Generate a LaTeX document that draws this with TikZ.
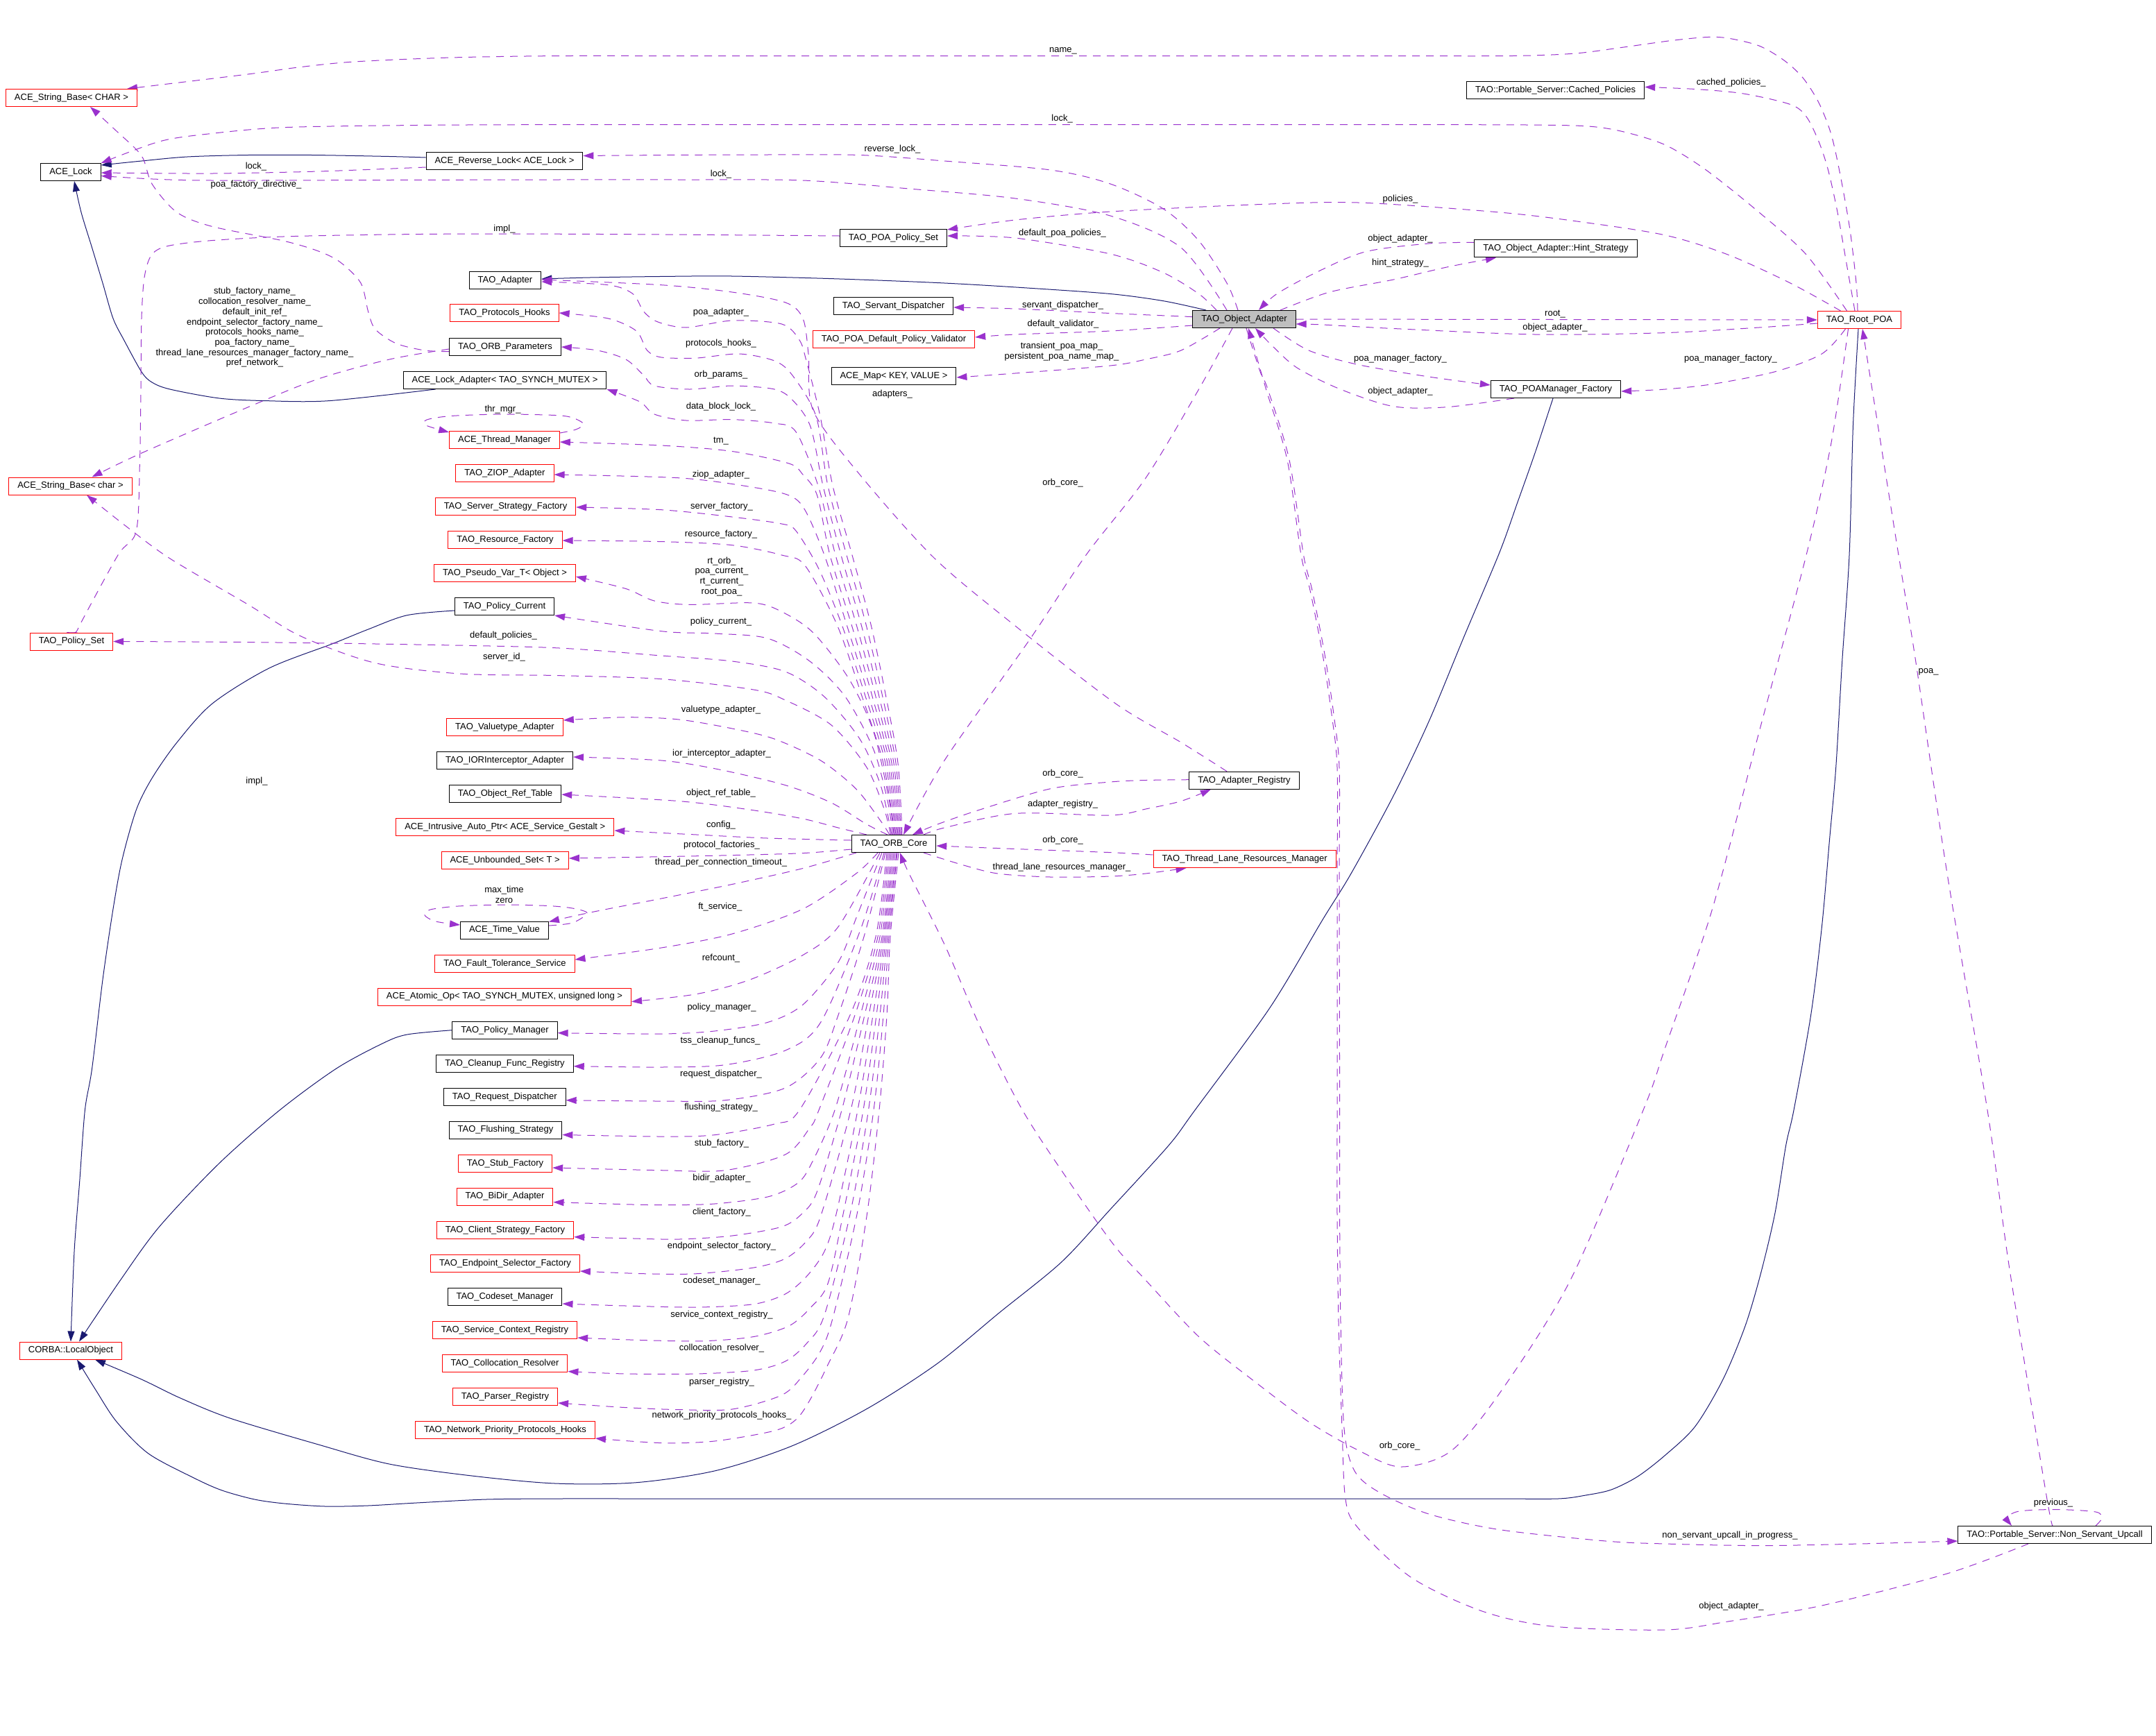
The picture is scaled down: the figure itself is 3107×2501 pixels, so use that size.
\documentclass[tikz,border=0pt]{standalone}
\usepackage{fontspec}
\setmainfont{Liberation Sans}
\usetikzlibrary{arrows.meta}
\pgfdeclarelayer{background}
\pgfsetlayers{background,main}
\definecolor{dpurple}{HTML}{9A32CD}
\definecolor{dnavy}{HTML}{191970}
\definecolor{dred}{HTML}{FF0000}
\definecolor{dgray}{HTML}{BFBFBF}
\newcommand\dgfont{\fontsize{13}{14.7}\selectfont}
\tikzset{
  cls/.style={draw=black, line width=1pt, fill=white, minimum height=25pt, inner xsep=12.5pt, inner ysep=0pt, font=\dgfont},
  clsr/.style={cls, draw=dred},
  clsf/.style={cls, fill=dgray},
  lbl/.style={inner sep=0pt, font=\dgfont, align=center},
  dep/.style={draw=dpurple, line width=1pt, dash pattern=on 11pt off 9pt, -{Triangle[length=15pt,width=10pt]}},
  inh/.style={draw=dnavy, line width=1pt, -{Triangle[length=15pt,width=10pt]}},
}
\begin{document}
\begin{tikzpicture}[x=1pt, y=-1pt]
\useasboundingbox (0,0) rectangle (3107,2501);
% ---------------- class nodes ----------------
\node[clsr] (sbCHAR) at (103,141) {ACE\_String\_Base< CHAR >};
\node[cls] (acelock) at (102,248) {ACE\_Lock};
\node[cls] (revlock) at (727,232) {ACE\_Reverse\_Lock< ACE\_Lock >};
\node[cls] (taoadapter) at (728,404) {TAO\_Adapter};
\node[clsr] (prothooks) at (727,451) {TAO\_Protocols\_Hooks};
\node[cls] (orbparams) at (728,500) {TAO\_ORB\_Parameters};
\node[cls] (lockadapter) at (727.5,548) {ACE\_Lock\_Adapter< TAO\_SYNCH\_MUTEX >};
\node[clsr] (thrmgr) at (727,634) {ACE\_Thread\_Manager};
\node[clsr] (ziop) at (727.5,682) {TAO\_ZIOP\_Adapter};
\node[clsr] (srvstrat) at (728.5,730) {TAO\_Server\_Strategy\_Factory};
\node[clsr] (resfact) at (728,778) {TAO\_Resource\_Factory};
\node[clsr] (sbchar) at (101.5,700.5) {ACE\_String\_Base< char >};
\node[clsr] (pseudovar) at (727.5,826) {TAO\_Pseudo\_Var\_T< Object >};
\node[cls] (polcur) at (727,874) {TAO\_Policy\_Current};
\node[clsr] (polset) at (103,924.5) {TAO\_Policy\_Set};
\node[clsr] (valuetype) at (727.5,1048) {TAO\_Valuetype\_Adapter};
\node[cls] (ior) at (727.5,1096) {TAO\_IORInterceptor\_Adapter};
\node[cls] (objref) at (728,1144) {TAO\_Object\_Ref\_Table};
\node[clsr] (autoptr) at (727.8,1192) {ACE\_Intrusive\_Auto\_Ptr< ACE\_Service\_Gestalt >};
\node[clsr] (unbset) at (727.7,1240) {ACE\_Unbounded\_Set< T >};
\node[cls] (timeval) at (727,1340.5) {ACE\_Time\_Value};
\node[clsr] (ftsvc) at (727.5,1388.7) {TAO\_Fault\_Tolerance\_Service};
\node[clsr] (atomicop) at (727,1436.6) {ACE\_Atomic\_Op< TAO\_SYNCH\_MUTEX, unsigned long >};
\node[cls] (polmgr) at (727.5,1484.7) {TAO\_Policy\_Manager};
\node[cls] (cleanup) at (727.5,1532.7) {TAO\_Cleanup\_Func\_Registry};
\node[cls] (reqdisp) at (727.3,1580.7) {TAO\_Request\_Dispatcher};
\node[cls] (flush) at (728.5,1628.5) {TAO\_Flushing\_Strategy};
\node[clsr] (stubf) at (728,1677) {TAO\_Stub\_Factory};
\node[clsr] (bidir) at (727.5,1724.6) {TAO\_BiDir\_Adapter};
\node[clsr] (clistrat) at (728,1773) {TAO\_Client\_Strategy\_Factory};
\node[clsr] (endpoint) at (728,1821) {TAO\_Endpoint\_Selector\_Factory};
\node[cls] (codeset) at (727.5,1869) {TAO\_Codeset\_Manager};
\node[clsr] (svcctx) at (727.5,1917) {TAO\_Service\_Context\_Registry};
\node[clsr] (colloc) at (727.5,1965) {TAO\_Collocation\_Resolver};
\node[clsr] (parser) at (728,2013) {TAO\_Parser\_Registry};
\node[clsr] (netprio) at (728,2061) {TAO\_Network\_Priority\_Protocols\_Hooks};
\node[clsr] (localobj) at (102,1946.5) {CORBA::LocalObject};
\node[cls] (poapolset) at (1287.5,343) {TAO\_POA\_Policy\_Set};
\node[cls] (servdisp) at (1287.5,441) {TAO\_Servant\_Dispatcher};
\node[clsr] (validator) at (1288,489) {TAO\_POA\_Default\_Policy\_Validator};
\node[cls] (acemap) at (1288,542) {ACE\_Map< KEY, VALUE >};
\node[cls] (orbcore) at (1288,1216) {TAO\_ORB\_Core};
\node[cls] (cachedpol) at (2241.7,130.4) {TAO::Portable\_Server::Cached\_Policies};
\node[cls] (hint) at (2242,358.4) {TAO\_Object\_Adapter::Hint\_Strategy};
\node[clsf] (oa) at (1793,460) {TAO\_Object\_Adapter};
\node[cls] (poamf) at (2242,561) {TAO\_POAManager\_Factory};
\node[clsr] (rootpoa) at (2679.5,461) {TAO\_Root\_POA};
\node[cls] (adreg) at (1793,1124.7) {TAO\_Adapter\_Registry};
\node[clsr] (tlrm) at (1793.6,1238) {TAO\_Thread\_Lane\_Resources\_Manager};
\node[cls] (nsu) at (2961,2212) {TAO::Portable\_Server::Non\_Servant\_Upcall};
% ---------------- edge labels ----------------
\node[lbl] (l1) at (1532,73) {name\_};
\node[lbl] (l2) at (2494.7,119.4) {cached\_policies\_};
\node[lbl] (l3) at (1530.6,171.4) {lock\_};
\node[lbl] (l4) at (1286,215) {reverse\_lock\_};
\node[lbl] (l5) at (369,240) {lock\_};
\node[lbl] (l6) at (1039,251.5) {lock\_};
\node[lbl] (l7) at (369,266) {poa\_factory\_directive\_};
\node[lbl] (l8) at (2018,287) {policies\_};
\node[lbl] (l9) at (727,330.6) {impl\_};
\node[lbl] (l10) at (1531,336) {default\_poa\_policies\_};
\node[lbl] (l11) at (2018,344.4) {object\_adapter\_};
\node[lbl] (l12) at (2018,379.6) {hint\_strategy\_};
\node[lbl] (l13) at (367,472) {stub\_factory\_name\_\\collocation\_resolver\_name\_\\default\_init\_ref\_\\endpoint\_selector\_factory\_name\_\\protocols\_hooks\_name\_\\poa\_factory\_name\_\\thread\_lane\_resources\_manager\_factory\_name\_\\pref\_network\_};
\node[lbl] (l14) at (1531.6,440) {servant\_dispatcher\_};
\node[lbl] (l15) at (1039,450.5) {poa\_adapter\_};
\node[lbl] (l16) at (2241,452.6) {root\_};
\node[lbl] (l17) at (1532,467) {default\_validator\_};
\node[lbl] (l18) at (2241,472.4) {object\_adapter\_};
\node[lbl] (l19) at (1039,495.4) {protocols\_hooks\_};
\node[lbl] (l20) at (1530,506.8) {transient\_poa\_map\_\\persistent\_poa\_name\_map\_};
\node[lbl] (l21) at (2018,516.8) {poa\_manager\_factory\_};
\node[lbl] (l22) at (2494,516.8) {poa\_manager\_factory\_};
\node[lbl] (l23) at (1039,540) {orb\_params\_};
\node[lbl] (l24) at (2018,563.8) {object\_adapter\_};
\node[lbl] (l25) at (1286,568) {adapters\_};
\node[lbl] (l26) at (1039,586) {data\_block\_lock\_};
\node[lbl] (l27) at (724.5,590) {thr\_mgr\_};
\node[lbl] (l28) at (1039,636) {tm\_};
\node[lbl] (l29) at (1039,683.7) {ziop\_adapter\_};
\node[lbl] (l30) at (1531.6,696.4) {orb\_core\_};
\node[lbl] (l31) at (1040,730.6) {server\_factory\_};
\node[lbl] (l32) at (1039,770) {resource\_factory\_};
\node[lbl] (l33) at (1040,830.8) {rt\_orb\_\\poa\_current\_\\rt\_current\_\\root\_poa\_};
\node[lbl] (l34) at (1039,896.4) {policy\_current\_};
\node[lbl] (l35) at (725.5,915.8) {default\_policies\_};
\node[lbl] (l36) at (726.5,947.4) {server\_id\_};
\node[lbl] (l37) at (2779,968) {poa\_};
\node[lbl] (l38) at (1039,1023.5) {valuetype\_adapter\_};
\node[lbl] (l39) at (1040,1086) {ior\_interceptor\_adapter\_};
\node[lbl] (l40) at (1531.6,1115.3) {orb\_core\_};
\node[lbl] (l41) at (370,1126.5) {impl\_};
\node[lbl] (l42) at (1039,1143.4) {object\_ref\_table\_};
\node[lbl] (l43) at (1531.6,1159) {adapter\_registry\_};
\node[lbl] (l44) at (1039,1188.8) {config\_};
\node[lbl] (l45) at (1531.6,1211) {orb\_core\_};
\node[lbl] (l46) at (1040,1218.4) {protocol\_factories\_};
\node[lbl] (l47) at (1039,1243.4) {thread\_per\_connection\_timeout\_};
\node[lbl] (l48) at (1530,1250.5) {thread\_lane\_resources\_manager\_};
\node[lbl] (l49) at (726.5,1289.5) {max\_time\\zero};
\node[lbl] (l50) at (1037.8,1306.6) {ft\_service\_};
\node[lbl] (l51) at (1039,1380.6) {refcount\_};
\node[lbl] (l52) at (1040,1452.6) {policy\_manager\_};
\node[lbl] (l53) at (1038,1500.5) {tss\_cleanup\_funcs\_};
\node[lbl] (l54) at (1039,1548.5) {request\_dispatcher\_};
\node[lbl] (l55) at (1039,1596) {flushing\_strategy\_};
\node[lbl] (l56) at (1040,1648.5) {stub\_factory\_};
\node[lbl] (l57) at (1040,1698.5) {bidir\_adapter\_};
\node[lbl] (l58) at (1040,1747.4) {client\_factory\_};
\node[lbl] (l59) at (1040,1796.4) {endpoint\_selector\_factory\_};
\node[lbl] (l60) at (1040,1846.4) {codeset\_manager\_};
\node[lbl] (l61) at (1040,1895.4) {service\_context\_registry\_};
\node[lbl] (l62) at (1040,1943.4) {collocation\_resolver\_};
\node[lbl] (l63) at (1040,1992.3) {parser\_registry\_};
\node[lbl] (l64) at (1040,2040.3) {network\_priority\_protocols\_hooks\_};
\node[lbl] (l65) at (2017,2083.7) {orb\_core\_};
\node[lbl] (l66) at (2959,2166) {previous\_};
\node[lbl] (l67) at (2493,2213) {non\_servant\_upcall\_in\_progress\_};
\node[lbl] (l68) at (2495,2315) {object\_adapter\_};
% ---------------- edges ----------------
\begin{pgfonlayer}{background}
\fill[white] (0,0) rectangle (3107,2501);
% inheritance
\draw[inh] plot[smooth] coordinates {([yshift=5pt]revlock.west) (561,225.5) (450,223.5) (357,223.5) (270,226) (204,232) ([yshift=10pt]acelock.east)};
\draw[inh] plot[smooth] coordinates {([xshift=-100pt]lockadapter.south) (474.5,577.6) (382.7,577.6) (316,574) (245,561) (219,551) (204,536) (178.6,490) (163,459) (148,408) (132.6,357) (117,306) ([xshift=5pt]acelock.south)};
\draw[inh] plot[smooth] coordinates {([xshift=-55pt]oa.north) (1676.5,433.7) (1600,423.5) (1480,415) (1361,408) (1210,402) (1055,398) (950,398.5) (850,400) ([yshift=2pt]taoadapter.east)};
\draw[inh] plot[smooth] coordinates {([xshift=-4pt]poamf.south) (2212,653) (2186.7,724.5) (2161,796) (2110,917) (2059,1040) (2008,1147) (1947,1259) (1906,1325.5) (1829.6,1453) (1722,1600) (1684,1651) (1600,1743) (1529.6,1819) (1440,1892) (1351,1965) (1250,2030) (1141.8,2083.7) (1032,2119.4) (917,2136.7) (800,2138) (680,2127) (561,2110) (459,2082) (331.6,2044) (260,2015) (204,1988) ([xshift=35pt]localobj.south)};
\draw[inh] plot[smooth] coordinates {([xshift=-1.5pt]rootpoa.south) (2670.5,612) (2665,800) (2654.7,953) (2645.7,1106) (2636.7,1208) (2625.4,1335.7) (2609.6,1463) (2585,1600) (2573.6,1651) (2558,1748) (2537.5,1835) (2515,1911) (2483,1988) (2443,2055.6) (2400,2097) (2360,2128) (2322,2147) (2285,2155) (2245,2160) (2150,2160) (1950,2160) (1700,2160) (1450,2160) (1200,2160) (950,2160) (800,2160) (700,2161) (600,2166) (530,2170) (469,2171) (410,2167) (367,2161) (320,2148) (280.6,2130.6) (214,2095) (168,2049) (137.8,2003) ([xshift=9pt]localobj.south)};
\draw[inh] plot[smooth] coordinates {([yshift=-6pt]polcur.west) (586.7,886.7) (530.6,907) (479.6,927.6) (387.8,963) (306,1014) (255,1070) (219.4,1121) (196.4,1167) (176,1239) (163,1310) (148,1412) (132.6,1540) (122.4,1600) (114.8,1702) (107,1804) (localobj.north)};
\draw[inh] plot[smooth] coordinates {(polmgr.west) (586.7,1491) (551,1504) (484.7,1540) (403,1600) (316,1676.5) (229.6,1768) (173.5,1845) ([xshift=12pt]localobj.north)};
% usage: top area
\draw[dep] plot[smooth] coordinates {([xshift=-2.5pt]rootpoa.north) (2675,408) (2666,331.6) (2652.5,255) (2639,194) (2621,148) (2598,112) (2571,87) (2535,66) (2490,55) (2458.6,53.6) (2406.8,58.7) (2340,68) (2270,77) (2180,80.5) (2000,80.6) (1800,80.6) (1600,80.6) (1400,80.6) (1200,80.6) (1000,80.6) (800,80.6) (650,83) (510,89) (430,97) (357,107) ([xshift=80pt]sbCHAR.north)};
\draw[dep] plot[smooth] coordinates {([xshift=-6.5pt]rootpoa.north) (2661.5,382.7) (2648,306) (2634.5,245) (2621,204) (2603,168) (2580,150.5) (2512.7,135) (2445,128.6) ([yshift=5pt]cachedpol.east)};
\draw[dep] plot[smooth] coordinates {([xshift=-18pt]rootpoa.north) (2603,367) (2535,306) (2458.6,245) (2400,209) (2340,190) (2288.8,182) (2200,180) (2000,179.6) (1800,179.6) (1600,179.6) (1400,179.6) (1200,179.6) (1000,179.6) (800,179.6) (600,180.5) (408,183.7) (300,193) (229.6,204) (acelock.north east)};
\draw[dep] plot[smooth] coordinates {([xshift=-27pt]rootpoa.north) (2580,408) (2490,367) (2400,339) (2280,320) (2161,306) (1957,292) (1804,295) (1600,305) (1463,317) ([yshift=12pt]poapolset.east)};
\draw[dep] plot[smooth] coordinates {([xshift=-9pt]oa.north) (1768,408) (1727.6,347) (1676.5,301) (1600,265) (1514,245) (1361,232) (1239,223.5) (1100,223) (960,223.5) ([yshift=7.5pt]revlock.east)};
\draw[dep] plot[smooth] coordinates {([xshift=-25pt]oa.north) (1702,357) (1600,311) (1463,286) (1310,272) (1157,260) (980,259) (800,259) (560,259.5) (306,260) (220,258) ([yshift=-5.5pt]acelock.east)};
\draw[dep] plot[smooth] coordinates {([yshift=-9pt]revlock.west) (459,247) (306,250) ([yshift=-1pt]acelock.east)};
\draw[dep] plot[smooth] coordinates {([yshift=-6.6pt]orbparams.west) (612,505) (571,495) (540.8,474.5) (530.6,449) (520,408) (490,377.6) (459,362) (408,347) (306,326.5) (255,306) (219,265) (204,224.5) (168,189) ([xshift=27pt]sbCHAR.south)};
\draw[dep] plot[smooth] coordinates {([yshift=-3pt]orbparams.west) (561,518) (459,546) (357,587) (204,653) ([xshift=31pt]sbchar.north)};
\draw[dep] plot[smooth] coordinates {([yshift=3pt]poapolset.west) (960,338) (714,337) (560,338) (408,341) (300,347) (240,355) (218,368) (208,400) (204,459) (203,561) (201.5,663) (196.4,765) (170,800) (117,897) ([xshift=9pt]polset.north)};
\draw[dep] plot[smooth] coordinates {([xshift=-40pt]oa.north) (1727.6,423.5) (1676.5,393) (1600,366) (1463,343) ([yshift=3pt]poapolset.east)};
\draw[dep] plot[smooth] coordinates {([yshift=9pt]hint.west) (2059,351) (1967,363) (1896,393) (1840,423.5) ([xshift=21pt]oa.north)};
\draw[dep] plot[smooth] coordinates {([xshift=52pt]oa.north) (1916,421) (2008,403) (2085,385) ([xshift=-86pt]hint.south)};
\draw[dep] (oa.east) -- (rootpoa.west);
\draw[dep] plot[smooth] coordinates {([yshift=-5pt]rootpoa.west) (2535,472) (2400,479.6) (2212,482) (2008,473.5) (1906,468) ([yshift=-7pt]oa.east)};
\draw[dep] plot[smooth] coordinates {([xshift=42pt]oa.south) (1886,505) (1957,525.5) (2059,543) ([yshift=6pt]poamf.west)};
\draw[dep] plot[smooth] coordinates {([xshift=-60pt]poamf.south) (2085,586.7) (2008,585.7) (1931.6,561) (1870,530.6) (1835,500) ([xshift=16pt]oa.south)};
\draw[dep] plot[smooth] coordinates {([xshift=-20pt]rootpoa.south) (2625.4,510) (2558,535.7) (2467.6,553.6) (2400,561) ([yshift=-3pt]poamf.east)};
\draw[dep] plot[smooth] coordinates {([yshift=3.4pt]oa.west) (1600,451.5) (1463,445) ([yshift=-2pt]servdisp.east)};
\draw[dep] plot[smooth] coordinates {([yshift=-9pt]oa.west) (1600,477) (1463,482) ([yshift=3pt]validator.east)};
\draw[dep] plot[smooth] coordinates {([xshift=-35pt]oa.south) (1702,505) (1651,518) (1600,527) (1463,538) ([yshift=-2pt]acemap.east)};
\draw[dep] plot[smooth] coordinates {([xshift=-17pt]oa.south) (1727.6,561) (1651,689) (1565,800) (1483.7,922) (1361,1096) ([xshift=14pt]orbcore.north)};
\draw[dep] plot[smooth] coordinates {([xshift=3pt]oa.south) (1816,535.7) (1827,561) (1858,663) (1878.5,800) (1891,851) (1909,943) (1922,1029.6) (1930,1106) (1930,1259) (1930.3,1430) (1930.6,1600) (1930.6,1753) (1932,1906) (1937,2059) (1952,2120) (1988,2151) (2059,2182) (2161,2204.6) (2314,2221) (2400,2225) (2535,2227.6) (2680,2225) ([yshift=-9pt]nsu.west)};
\draw[dep] plot[smooth] coordinates {([xshift=-38pt]nsu.south) (2805.8,2268) (2625.4,2314) (2490,2337) (2400,2349) (2237.8,2344) (2135.7,2322) (2033.7,2273.5) (1957,2202) (1939,2161) (1934,2059) (1929,1906) (1927,1753) (1927,1600) (1927,1430) (1927,1259) (1927,1106) (1919,1029.6) (1906,943) (1888,851) (1875,800) (1855,663) (1824.5,561) ([xshift=6pt]oa.south)};
\draw[dep] plot[smooth] coordinates {([xshift=59pt]nsu.north) (3029,2188) (3020,2179) (2963.6,2175.5) (2910,2178) (2893,2187) ([xshift=-62pt]nsu.north)};
\draw[dep] plot[smooth] coordinates {([xshift=-2pt]nsu.north) (2950,2161) (2896,1829.6) (2864,1600) (2806,1259) (2760.7,953) (2736,800) (2702,586.7) ([xshift=4.5pt]rootpoa.south)};
\draw[dep] plot[smooth] coordinates {([xshift=-16pt]rootpoa.south) (2639,638) (2603,800) (2535,1055) (2467.6,1310) (2400,1509) (2368,1600) (2263,1845) (2161,2008) (2090,2092) (2018,2114) (1957,2090) (1885.7,2049) (1804,1988) (1727.6,1926.5) (1651,1845) (1605,1794) (1540,1702) (1473.5,1600) (1412,1478.6) (1361,1361) (1310,1259) ([xshift=9pt]orbcore.south)};
\draw[dep] plot[smooth] coordinates {([yshift=1pt]adreg.west) (1651,1124.5) (1600,1127) (1514,1136.7) (1412,1167) (1351,1188) ([xshift=27pt]orbcore.north)};
\draw[dep] plot[smooth] coordinates {([xshift=43pt]orbcore.north) (1361,1193) (1463,1172.4) (1600,1175) (1651,1166) (1702,1154.6) ([xshift=-48pt]adreg.south)};
\draw[dep] plot[smooth] coordinates {([yshift=6pt]tlrm.west) (1600,1228.6) (1463,1223.5) ([yshift=-3pt]orbcore.east)};
\draw[dep] plot[smooth] coordinates {([xshift=43pt]orbcore.south) (1386.7,1246.4) (1437.8,1259) (1514,1264) (1600,1263) (1651,1259) ([xshift=-84pt]tlrm.south)};
\draw[dep] plot[smooth] coordinates {([xshift=-25pt]adreg.north) (1702,1070) (1607.6,1014) (1463,902) (1346,804) (1239,684) (1172,592) (1165,510) (1157,459) (1132,436) (1055,421) (953,410.7) ([yshift=1pt]taoadapter.east)};
% usage: ORB core, upper fan
\draw[dep] plot[smooth] coordinates {([xshift=12pt]orbcore.north) (1294,1100) (1276,1000) (1255,900) (1228,800) (1200,700) (1182,600) (1162,520) (1152,490) (1126.5,467) (1055,462) (989,472) (948,464) (927.6,449) (912,423.5) (876.5,410.7) ([yshift=-2pt]taoadapter.east)};
\draw[dep] plot[smooth] coordinates {([xshift=10.5pt]orbcore.north) (1291,1100) (1271,1000) (1248,900) (1220,800) (1193,700) (1176,600) (1142,541) (1116,520) (1065,510) (1004,516) (953,515) (932.6,505) (917,477) (876.5,459) (prothooks.east)};
\draw[dep] plot[smooth] coordinates {([xshift=9pt]orbcore.north) (1288,1100) (1266,1000) (1241,900) (1212,800) (1186,700) (1168,615) (1142,576.5) (1116,561) (1055,556) (994,561) (943,556) (927.6,541) (902,518) (861,505) (orbparams.east)};
\draw[dep] plot[smooth] coordinates {([xshift=7.5pt]orbcore.north) (1285,1100) (1261,1000) (1234,900) (1204,800) (1179,700) (1147,622.4) (1116,610) (1055,604.6) (989,606) (943,597) (922,579) (lockadapter.south east)};
\draw[dep] plot[smooth] coordinates {([xshift=6pt]orbcore.north) (1282,1100) (1256,1000) (1227,900) (1196,800) (1177.6,714) (1157,684) (1137,668) (1055,650.5) (953,642) ([yshift=-3pt]thrmgr.east)};
\draw[dep] plot[smooth] coordinates {([xshift=4.5pt]orbcore.north) (1279,1100) (1251,1000) (1220,900) (1188,800) (1160,735) (1137,714) (1080.6,701.5) (978.6,688.8) ([yshift=-2pt]ziop.east)};
\draw[dep] plot[smooth] coordinates {([xshift=3pt]orbcore.north) (1276,1100) (1246,1000) (1213,900) (1180,820) (1147,765) (1126.5,755) (1055,745) (953,734.7) ([yshift=-1pt]srvstrat.east)};
\draw[dep] plot[smooth] coordinates {([xshift=1.5pt]orbcore.north) (1273,1100) (1241,1000) (1206,900) (1160,815) (1126.5,800) (1055,785.7) (953,780.6) ([yshift=-1pt]resfact.east)};
\draw[dep] plot[smooth] coordinates {(orbcore.north) (1282,1157) (1259,1055) (1223.5,978.6) (1172,912) (1126.5,881.6) (1086,869) (994,871.4) (943,866) (902,848.5) ([yshift=-5pt]pseudovar.east)};
\draw[dep] plot[smooth] coordinates {([xshift=-1.5pt]orbcore.north) (1279.6,1157) (1259,1080.6) (1218,1004) (1167,953) (1106,920) (1029.6,913) (953,909.7) (polcur.south east)};
\draw[dep] plot[smooth] coordinates {([xshift=-3pt]orbcore.north) (1269,1131.6) (1239,1065) (1187.8,1004) (1131.6,968) (1055,953) (953,945) (800,933.7) (600,929) (400,926) (280,925) (polset.east)};
\draw[dep] plot[smooth] coordinates {([xshift=-4.5pt]orbcore.north) (1274.5,1167) (1249,1106) (1198,1045) (1131.6,1009) (1086,994) (953,978.6) (800,973.5) (663,971) (541,955.6) (433.7,917) (357,871) (245,805) (183.7,760) ([xshift=23.5pt]sbchar.south)};
\draw[dep] plot[smooth] coordinates {([xshift=-6pt]orbcore.north) (1269,1183) (1233.7,1137) (1182.6,1096) (1116,1065) (1055,1050) (978.6,1037) (902,1033.7) ([yshift=10pt]valuetype.east)};
\draw[dep] plot[smooth] coordinates {([xshift=-9pt]orbcore.north) (1249,1188) (1198,1157) (1131.6,1131.6) (1034.7,1108.7) (953,1096) ([yshift=5pt]ior.east)};
\draw[dep] plot[smooth] coordinates {([xshift=-39pt]orbcore.north) (1208,1193) (1157,1180) (1080.6,1167) (978.6,1154.6) ([yshift=-1pt]objref.east)};
\draw[dep] plot[smooth] coordinates {([yshift=5pt]orbcore.west) (1106,1208) (1004,1203) ([yshift=-5pt]autoptr.east)};
\draw[dep] plot[smooth] coordinates {([yshift=-8pt]orbcore.west) (1157,1229.6) (1055,1232.6) (953,1234.7) ([yshift=3pt]unbset.east)};
% usage: ORB core, lower fan
\draw[dep] plot[smooth] coordinates {([xshift=-54pt]orbcore.south) (1157,1251.5) (1055,1274.5) (953,1295) (851,1315) ([yshift=12pt]timeval.east)};
\draw[dep] plot[smooth] coordinates {([xshift=-23pt]orbcore.south) (1233.7,1259) (1157,1310) (1055,1346) (953,1366) ([yshift=5.7pt]ftsvc.east)};
\draw[dep] plot[smooth] coordinates {([xshift=-20pt]orbcore.south) (1208,1335.7) (1157,1376.5) (1080.6,1412) (1004,1432.6) ([yshift=-7pt]atomicop.east)};
\draw[dep] plot[smooth] coordinates {([xshift=-17pt]orbcore.south) (1235,1320) (1208,1386.7) (1157,1448) (1106,1473.5) (1029.6,1486) (953,1490) ([yshift=-4pt]polmgr.east)};
\draw[dep] plot[smooth] coordinates {([xshift=-14pt]orbcore.south) (1240,1340) (1182.6,1473.5) (1131.6,1514) (1045,1534.7) (953,1538) ([yshift=-4pt]cleanup.east)};
\draw[dep] plot[smooth] coordinates {([xshift=-12pt]orbcore.south) (1245,1350) (1208,1463) (1182.6,1524.5) (1131.6,1568) (1045,1585.7) (953,1587) ([yshift=-5pt]reqdisp.east)};
\draw[dep] plot[smooth] coordinates {([xshift=-10pt]orbcore.south) (1262,1350) (1225,1463) (1152,1600) (1116,1620) (1029.6,1635.7) (953,1638) ([yshift=-7pt]flush.east)};
\draw[dep] plot[smooth] coordinates {([xshift=-8pt]orbcore.south) (1265,1350) (1232,1463) (1180,1600) (1167,1625.5) (1131.6,1664) (1045,1686.7) (953,1686.7) ([yshift=-6pt]stubf.east)};
\draw[dep] plot[smooth] coordinates {([xshift=-6pt]orbcore.south) (1268,1350) (1240,1463) (1203,1600) (1167,1681.6) (1147,1707) (1106,1725) (1029.6,1735) (953,1736.7) (876.5,1735) ([yshift=-8pt]bidir.east)};
\draw[dep] plot[smooth] coordinates {([xshift=-4pt]orbcore.south) (1271,1350) (1246,1463) (1213,1600) (1177.6,1717) (1157,1748) (1126.5,1768) (1055,1781) (978.6,1786) (902,1784.7) ([yshift=-9.7pt]clistrat.east)};
\draw[dep] plot[smooth] coordinates {([xshift=-2pt]orbcore.south) (1273,1350) (1252,1463) (1226,1600) (1182.6,1753) (1162,1789) (1131.6,1814) (1086,1827) (1004,1835.7) (927.6,1835.7) ([yshift=-11pt]endpoint.east)};
\draw[dep] plot[smooth] coordinates {(orbcore.south) (1275,1350) (1258,1463) (1236,1600) (1205,1750) (1187.8,1804) (1162,1840) (1131.6,1865) (1086,1879.6) (1004,1884) (902,1882) ([yshift=-10pt]codeset.east)};
\draw[dep] plot[smooth] coordinates {([xshift=2pt]orbcore.south) (1277,1350) (1263,1463) (1244,1600) (1215,1750) (1193,1850) (1167,1885.7) (1137,1911) (1086,1926.5) (1014,1932.7) (927.6,1931.6) ([yshift=-11pt]svcctx.east)};
\draw[dep] plot[smooth] coordinates {([xshift=4pt]orbcore.south) (1279,1350) (1268,1463) (1251.5,1600) (1225,1750) (1187.8,1896) (1162,1936.7) (1131.6,1962) (1086,1975) (1004,1980) (902,1980) ([yshift=-11.5pt]colloc.east)};
\draw[dep] plot[smooth] coordinates {([xshift=5pt]orbcore.south) (1281,1350) (1273,1463) (1259,1600) (1235,1750) (1200,1900) (1182.6,1947) (1157,1982.6) (1126.5,2010.7) (1055,2031) (978.6,2031.6) (902,2028.6) ([yshift=-9pt]parser.east)};
\draw[dep] plot[smooth] coordinates {([xshift=7pt]orbcore.south) (1283,1350) (1278,1463) (1267,1600) (1249,1753) (1222,1900) (1193,1967) (1167,2018) (1147,2046) (1116,2062) (1029.6,2077) (953,2079.6) ([yshift=-12pt]netprio.east)};
% self loops
\draw[dep] plot[smooth] coordinates {([yshift=10pt]thrmgr.east) (830,619) (841,611) (825,602) (800,598.5) (724.5,597) (650,599.5) (615,605) (614,613) ([yshift=11pt]thrmgr.west)};
\draw[dep] plot[smooth] coordinates {([yshift=6.5pt]timeval.east) (825,1330) (846,1316) (825,1309) (790,1305.5) (726,1304) (660,1306) (620,1311) (612,1319) (628,1328) ([yshift=7.5pt]timeval.west)};
\end{pgfonlayer}
\end{tikzpicture}
\end{document}
